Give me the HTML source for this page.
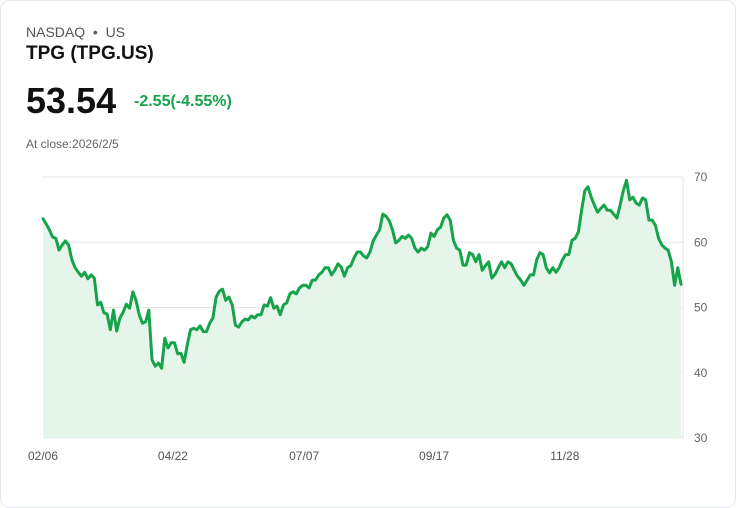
<!DOCTYPE html>
<html><head><meta charset="utf-8"><style>
body{margin:0;background:#fff;font-family:"Liberation Sans",Arial,sans-serif;}
.card{position:absolute;left:0;top:0;width:734px;height:506px;border:1px solid #e3e6ec;border-radius:10px;background:#fff;}
.t{position:absolute;white-space:nowrap;}
</style></head><body>
<div class="card">
<div class="t" style="left:25px;top:23px;font-size:14px;color:#555;">NASDAQ &nbsp;•&nbsp; US</div>
<div class="t" style="left:25px;top:42px;font-size:19px;font-weight:bold;color:#111;">TPG (TPG.US)</div>
<div class="t" style="left:25px;top:79px;font-size:36px;font-weight:bold;color:#111;">53.54</div>
<div class="t" style="left:133px;top:92px;font-size:16px;font-weight:bold;color:#16a34a;">-2.55(-4.55%)</div>
<div class="t" style="left:25px;top:136px;font-size:12px;color:#666;">At close:2026/2/5</div>
<svg id="chart" width="736" height="508" style="position:absolute;left:-1px;top:-1px"></svg>
</div>
<script>
const values=[63.6,62.8,61.9,60.8,60.6,58.8,59.6,60.2,59.6,57.3,56.1,55.4,54.8,55.4,54.4,55.0,54.5,50.4,50.8,49.2,49.0,46.6,49.6,46.4,48.4,49.3,50.5,49.9,52.4,51.1,48.9,47.6,47.8,49.6,42.0,41.0,41.5,40.7,45.3,43.8,44.6,44.6,42.9,43.0,41.6,44.3,46.6,46.8,46.6,47.2,46.3,46.3,47.6,48.4,51.6,52.5,52.8,51.1,51.6,50.4,47.3,47.0,47.8,48.2,48.1,48.7,48.4,48.9,48.9,50.4,50.2,51.5,49.9,50.2,48.9,50.4,50.7,52.1,52.4,52.1,53.0,53.4,53.4,53.0,54.2,54.2,55.0,55.4,56.1,56.1,55.0,55.7,56.7,56.2,54.8,56.1,56.4,57.6,58.5,58.5,57.9,57.6,58.5,60.2,61.1,61.9,64.3,64.0,63.3,61.9,59.9,60.3,60.9,60.6,61.1,60.6,59.1,58.5,59.1,58.8,59.3,61.4,60.9,61.9,62.3,63.7,64.2,63.4,60.3,59.1,58.8,56.5,56.5,58.4,58.1,57.0,58.1,55.7,56.4,57.0,54.5,55.1,56.1,57.0,56.1,57.0,56.7,55.7,54.8,54.2,53.4,54.2,55.0,55.0,57.3,58.4,58.1,56.1,55.3,56.1,55.4,56.1,57.3,58.1,58.1,60.3,60.6,61.6,64.9,67.9,68.5,66.9,65.7,64.6,65.2,65.7,64.9,64.9,64.3,63.7,65.7,67.9,69.5,66.5,66.9,66.0,65.7,66.8,66.5,63.4,63.4,62.6,60.6,59.6,59.1,58.8,57.0,53.4,56.1,53.54];
const yTicks=[30,40,50,60,70];
const xLabels=["02/06","04/22","07/07","09/17","11/28"];
const xLabelIdx=[0,0.203,0.408,0.611,0.816];
const svg=document.getElementById('chart');const NS='http://www.w3.org/2000/svg';
const X0=43,X1=681,Y=v=>438-(v-30)*261/40,X=i=>X0+i*(X1-X0)/(values.length-1);
function mk(t,a){const e=document.createElementNS(NS,t);for(const k in a)e.setAttribute(k,a[k]);svg.appendChild(e);return e;}
yTicks.forEach(v=>{const l=mk('line',{x1:43,x2:683,y1:Y(v),y2:Y(v),stroke:'#e5e5e5'});


const t=mk('text',{x:694,y:Y(v)+4,'font-size':12,fill:'#666','font-family':'Liberation Sans'});t.textContent=v;

});
const vl=mk('line',{x1:683,x2:683,y1:177,y2:438,stroke:'#e5e5e5'});


xLabels.forEach((s,i)=>{const t=mk('text',{x:X0-15+xLabelIdx[i]*640,y:460,'font-size':12,fill:'#555','font-family':'Liberation Sans'});t.textContent=s;

});
let d=values.map((v,i)=>(i?'L':'M')+X(i).toFixed(1)+' '+Y(v).toFixed(1)).join(' ');
const a=mk('path',{d:d+` L${X(values.length-1)} 438 L${X0} 438 Z`,fill:'#e6f5ea'});


const p=mk('path',{d:d,fill:'none',stroke:'#16a34a','stroke-width':3,'stroke-linejoin':'round','stroke-linecap':'round'});


</script>
</body></html>
